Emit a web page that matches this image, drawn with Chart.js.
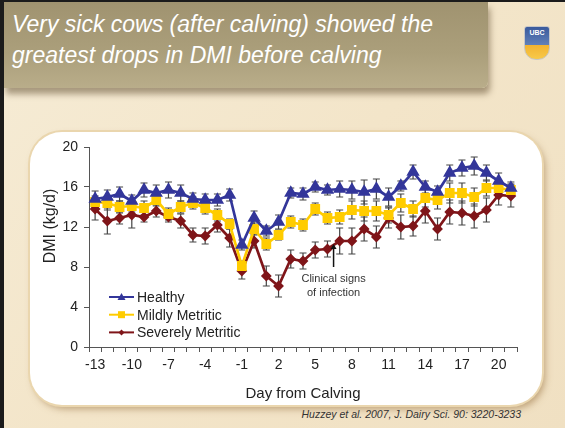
<!DOCTYPE html>
<html>
<head>
<meta charset="utf-8">
<script src="https://cdn.jsdelivr.net/npm/chart.js@4/dist/chart.umd.min.js"></script>
<style>
  html, body { margin: 0; padding: 0; }
  body {
    width: 565px; height: 428px; overflow: hidden; position: relative;
    background: linear-gradient(135deg, #f6ecd6 0%, #f3e5c9 50%, #f0e0c2 100%);
    font-family: "Liberation Sans", Arial, sans-serif;
    border-left: 4px solid #1b1b1b; border-top: 2px solid #1b1b1b;
    box-sizing: border-box;
  }
  .banner {
    position: absolute; left: 0; top: 0; width: 484px; height: 86px;
    background: linear-gradient(180deg, #a09370 0%, #ab9f7b 60%, #b9ad8a 100%);
    box-shadow: 2px 6px 6px rgba(90, 70, 40, 0.5);
    border-bottom-right-radius: 6px;
  }
  .title {
    position: absolute; left: 8px; top: 7px; color: #fff;
    font-style: italic; font-size: 23px; line-height: 31px;
  }
  .logo {
    position: absolute; left: 520px; top: 24px; width: 24px; height: 32px;
    background: linear-gradient(180deg, #3a5a9c 0%, #5f7fb8 55%, #f2b330 56%, #f7c94a 100%);
    border-radius: 3px 3px 12px 12px; border: 1px solid #c7c7c7;
    color: #fff; font-size: 7px; font-weight: bold; text-align: center; line-height: 12px;
  }
  .panel {
    position: absolute; left: 26px; top: 130px; width: 512px; height: 273px;
    background: #fff; border-radius: 32px;
    box-shadow: 0 0 0 2px #ead6ae, 3px 4px 7px rgba(150, 110, 60, 0.55);
  }
  #chart { position: absolute; left: 26px; top: 130px; }
  .cite {
    position: absolute; right: 44px; top: 406px; font-size: 10.5px;
    font-style: italic; color: #333;
  }
</style>
</head>
<body>
<div class="banner"></div>
<div class="title">Very sick cows (after calving) showed the<br>greatest drops in DMI before calving</div>
<div class="logo">UBC</div>
<div class="panel"></div>
<canvas id="chart" width="510" height="275"></canvas>
<div class="cite">Huzzey et al. 2007, J. Dairy Sci. 90: 3220-3233</div>

<script>
// ========================================
// DATA
// ========================================
const days = ['-13','-12','-11','-10','-9','-8','-7','-6','-5','-4','-3','-2','-1','0','1','2','3','4','5','6','7','8','9','10','11','12','13','14','15','16','17','18','19','20','21'];

const healthy = [14.8, 15.0, 15.3, 14.6, 15.7, 15.4, 15.7, 15.4, 14.8, 14.7, 14.7, 15.2, 10.2, 12.9, 11.6, 12.5,
                 15.4, 15.3, 16.0, 15.7, 15.8, 15.7, 15.5, 15.8, 15.0, 16.1, 17.5, 16.0, 15.5, 17.4, 17.9, 18.1, 17.4, 16.6, 15.9];
const mildly = [14.5, 14.4, 14.0, 14.1, 13.9, 14.7, 13.3, 14.0, 14.4, 13.9, 13.2, 12.3, 8.1, 11.8, 10.3, 11.2,
                12.5, 12.2, 13.8, 12.9, 13.0, 13.7, 13.6, 13.6, 13.2, 14.4, 13.8, 14.9, 14.7, 15.4, 15.4, 15.0, 15.9, 15.9, 15.7];
const severely = [13.8, 12.6, 12.9, 13.2, 13.0, 13.6, 13.0, 12.6, 11.2, 11.1, 12.2, 10.9, 7.6, 10.6, 7.1, 6.1,
                  8.8, 8.6, 9.7, 9.8, 10.6, 10.6, 11.8, 11.0, 12.9, 12.0, 12.1, 13.6, 11.8, 13.5, 13.4, 13.1, 13.7, 15.2, 15.1];

// standard errors (half length of each error bar)
const healthyErr = [0.8, 0.7, 0.7, 0.6, 0.7, 0.8, 0.8, 0.8, 0.6, 0.6, 0.6, 0.6, 0.5, 0.7, 0.5, 0.7,
                    0.5, 0.6, 0.5, 0.5, 0.8, 0.9, 1.2, 1.0, 0.9, 0.5, 0.7, 0.6, 0.6, 0.8, 0.8, 0.9, 0.8, 0.8, 0.6];
const mildlyErr = [0.6, 0.7, 0.6, 0.6, 0.7, 0.6, 0.6, 0.6, 0.6, 0.6, 0.6, 0.5, 0.5, 0.6, 0.6, 0.5,
                   0.6, 0.6, 0.6, 0.6, 0.7, 0.9, 1.0, 1.0, 0.8, 0.9, 0.8, 0.9, 0.9, 1.0, 1.0, 0.9, 0.8, 0.7, 0.6];
const severelyErr = [1.1, 1.3, 0.6, 1.3, 0.5, 0.6, 0.5, 0.7, 0.7, 0.8, 0.7, 0.9, 0.8, 0.7, 1.0, 1.1,
                     0.9, 0.8, 0.8, 0.8, 1.3, 1.3, 1.2, 1.1, 1.0, 1.2, 1.0, 1.2, 1.1, 1.2, 1.2, 1.2, 1.2, 1.0, 1.1];

const yTicks = [0, 4, 8, 12, 16, 20];

// annotation: arrow at day 6.5 (category index 19.5), from 8.0 up to 10.3 kg/d
const arrowAt = { index: 19.5, from: 8.0, to: 10.3 };
const noteLines = ['Clinical signs', 'of infection'];

const FONT = '"Liberation Sans", Arial, sans-serif';
const COLORS = { healthy: '#33369a', mildly: '#ffcc00', severely: '#7f1519', axis: '#555', text: '#222' };

// ========================================
// PLUGINS
// ========================================
const errorBars = {
    id: 'errorBars',
    beforeDatasetsDraw(chart) {
        const ctx = chart.ctx;
        const x = chart.scales.x, y = chart.scales.y;
        ctx.save();
        ctx.strokeStyle = '#444';
        ctx.lineWidth = 1.2;
        chart.data.datasets.forEach(ds => {
            ds.data.forEach((v, i) => {
                const px = x.getPixelForValue(i);
                const top = y.getPixelForValue(v + ds.err[i]);
                const bot = y.getPixelForValue(v - ds.err[i]);
                ctx.beginPath();
                ctx.moveTo(px, top); ctx.lineTo(px, bot);
                ctx.moveTo(px - 3.5, top); ctx.lineTo(px + 3.5, top);
                ctx.moveTo(px - 3.5, bot); ctx.lineTo(px + 3.5, bot);
                ctx.stroke();
            });
        });
        ctx.restore();
    }
};

const extras = {
    id: 'extras',
    afterDraw(chart) {
        const ctx = chart.ctx;
        const area = chart.chartArea;
        const x = chart.scales.x, y = chart.scales.y;
        ctx.save();

        // y axis title, centred near 12 kg/d like the original
        ctx.translate(21, y.getPixelForValue(12.1));
        ctx.rotate(-Math.PI / 2);
        ctx.fillStyle = COLORS.text;
        ctx.font = '16px ' + FONT;
        ctx.textAlign = 'center';
        ctx.textBaseline = 'middle';
        ctx.fillText('DMI (kg/d)', 0, 0);
        ctx.setTransform(1, 0, 0, 1, 0, 0);

        // arrow + note
        const ax = x.getPixelForValue(arrowAt.index);
        const y0 = y.getPixelForValue(arrowAt.from);
        const y1 = y.getPixelForValue(arrowAt.to);
        ctx.strokeStyle = '#111';
        ctx.fillStyle = '#111';
        ctx.lineWidth = 1.5;
        ctx.beginPath();
        ctx.moveTo(ax, y0); ctx.lineTo(ax, y1 + 4);
        ctx.stroke();
        ctx.beginPath();
        ctx.moveTo(ax, y1); ctx.lineTo(ax - 3, y1 + 5); ctx.lineTo(ax + 3, y1 + 5);
        ctx.closePath(); ctx.fill();

        ctx.fillStyle = '#333';
        ctx.font = '11px ' + FONT;
        ctx.textAlign = 'center';
        ctx.textBaseline = 'middle';
        noteLines.forEach((t, i) => ctx.fillText(t, ax, y0 + 12 + i * 13.5));

        // legend inside the plot, lower left
        const lx = area.left + 20;
        chart.data.datasets.forEach((ds, i) => {
            const ly = area.top + 150 + i * 17.7;
            ctx.strokeStyle = ds.borderColor;
            ctx.fillStyle = ds.borderColor;
            ctx.lineWidth = 2;
            ctx.beginPath();
            ctx.moveTo(lx, ly); ctx.lineTo(lx + 25, ly);
            ctx.stroke();
            const cx = lx + 12.5;
            ctx.beginPath();
            if (ds.pointStyle === 'triangle') {
                ctx.moveTo(cx, ly - 4); ctx.lineTo(cx + 4, ly + 3); ctx.lineTo(cx - 4, ly + 3);
            } else if (ds.pointStyle === 'rect') {
                ctx.rect(cx - 3.5, ly - 3.5, 7, 7);
            } else {
                ctx.moveTo(cx, ly - 3); ctx.lineTo(cx + 3, ly); ctx.lineTo(cx, ly + 3); ctx.lineTo(cx - 3, ly);
            }
            ctx.closePath(); ctx.fill();
            ctx.fillStyle = COLORS.text;
            ctx.font = '14px ' + FONT;
            ctx.textAlign = 'left';
            ctx.textBaseline = 'middle';
            ctx.fillText(ds.label, lx + 28, ly + 1);
        });
        ctx.restore();
    }
};

// ========================================
// CHART
// ========================================
new Chart(document.getElementById('chart'), {
    type: 'line',
    data: {
        labels: days,
        datasets: [
            { label: 'Healthy', data: healthy, err: healthyErr, borderColor: COLORS.healthy, backgroundColor: COLORS.healthy,
              pointStyle: 'triangle', pointRadius: 5, borderWidth: 2.7 },
            { label: 'Mildly Metritic', data: mildly, err: mildlyErr, borderColor: COLORS.mildly, backgroundColor: COLORS.mildly,
              pointStyle: 'rect', pointRadius: 5, borderWidth: 2.7 },
            { label: 'Severely Metritic', data: severely, err: severelyErr, borderColor: COLORS.severely, backgroundColor: COLORS.severely,
              pointStyle: 'rectRot', pointRadius: 3.5, borderWidth: 2.7 }
        ]
    },
    options: {
        responsive: false,
        animation: false,
        events: [],
        layout: { padding: { top: 15, right: 23, left: 0, bottom: 0 } },
        plugins: { legend: { display: false }, tooltip: { enabled: false } },
        scales: {
            x: {
                type: 'category',
                offset: true,
                grid: { offset: true, drawOnChartArea: false, tickLength: 5, color: COLORS.axis },
                border: { color: COLORS.axis, width: 1 },
                ticks: {
                    autoSkip: false, maxRotation: 0, padding: 5, color: COLORS.text,
                    font: { family: FONT, size: 14 },
                    callback: function(v, i) { return i % 3 === 0 ? this.getLabelForValue(v) : ''; }
                },
                title: { display: true, text: 'Day from Calving', color: COLORS.text,
                         font: { family: FONT, size: 15 }, padding: { top: 4, bottom: 4 } },
                afterFit: s => { s.height = 60; }
            },
            y: {
                min: 0, max: 20,
                afterBuildTicks: s => { s.ticks = yTicks.map(v => ({ value: v })); },
                grid: { drawOnChartArea: false, tickLength: 5, color: COLORS.axis },
                border: { color: COLORS.axis, width: 1 },
                ticks: { padding: 6, color: COLORS.text, font: { family: FONT, size: 14 } },
                afterFit: s => { s.width = 59; }
            }
        }
    },
    plugins: [errorBars, extras]
});
</script>
</body>
</html>
